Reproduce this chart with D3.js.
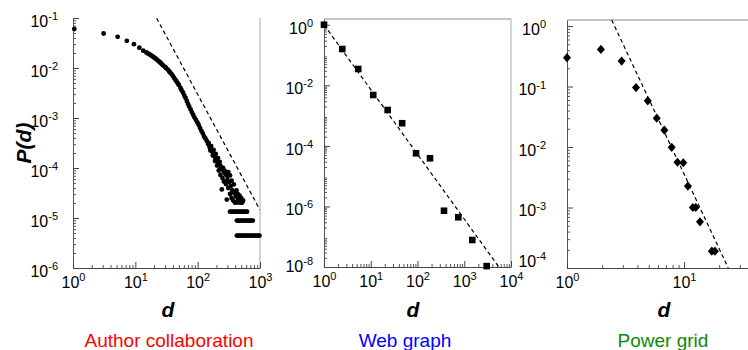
<!DOCTYPE html>
<html>
<head>
<meta charset="utf-8">
<script src="https://cdn.jsdelivr.net/npm/d3@7"></script>
<style>
  body { margin: 0; background: #fff; }
  svg { display: block; }
</style>
</head>
<body>
<div id="chart"></div>
<script>
// ---- data ----

// author collaboration: isolated low-d points + dense band
const authD = [1.05, 3.1, 5.2, 7.3, 9.5, 11.6, 13.4,
  15, 16, 17, 18, 19, 20, 21, 22, 23, 24, 25, 26, 27, 28, 30, 31, 33, 35, 36, 38, 40, 42, 44, 46, 48, 50,
  53, 55, 58, 61, 64, 67, 70, 73, 77, 81, 85, 89, 94, 99, 104, 109, 115, 121, 127, 133, 140, 147, 155,
  162, 170, 178, 185, 193, 200, 210, 220, 230, 240, 250, 260, 270, 280, 290, 300];
const authP = [0.060, 0.049, 0.042, 0.035, 0.030, 0.0255, 0.0222,
  2.04e-2, 1.95e-2, 1.86e-2, 1.78e-2, 1.70e-2, 1.62e-2, 1.55e-2, 1.48e-2, 1.41e-2, 1.35e-2, 1.29e-2, 1.23e-2,
  1.17e-2, 1.12e-2, 1.05e-2, 1.00e-2, 9.33e-3, 8.51e-3, 8.13e-3, 7.59e-3, 6.92e-3, 6.31e-3, 5.75e-3, 5.37e-3,
  4.90e-3, 4.57e-3, 3.98e-3, 3.63e-3, 3.24e-3, 2.82e-3, 2.51e-3, 2.19e-3, 1.91e-3, 1.70e-3, 1.48e-3, 1.29e-3,
  1.15e-3, 1.02e-3, 9.12e-4, 8.13e-4, 7.24e-4, 6.31e-4, 5.50e-4, 4.90e-4, 4.27e-4, 3.89e-4, 3.47e-4, 3.02e-4,
  2.63e-4, 2.40e-4, 2.14e-4, 1.91e-4, 1.74e-4, 1.58e-4, 1.45e-4, 1.32e-4, 1.20e-4, 1.10e-4, 1.00e-4, 9.33e-5,
  8.71e-5, 8.13e-5, 7.59e-5, 7.24e-5, 6.92e-5];
// scattered tail
const authTailD = [150, 160, 165, 175, 180, 190, 195, 205, 212, 218, 226, 232, 236, 244, 250, 256, 264, 272,
  284, 293, 300, 310, 320, 330, 340, 350, 360, 372, 385, 395, 410, 420, 440, 460, 480, 500, 520, 535,
  310, 330, 350, 380, 420, 440, 470, 500];
const authTailP = [3.16e-4, 2.24e-4, 2.75e-4, 1.78e-4, 2.29e-4, 1.38e-4, 1.91e-4, 1.12e-4, 1.58e-4, 8.91e-5,
  1.32e-4, 7.24e-5, 1.07e-4, 3.72e-5, 6.31e-5, 1.00e-4, 5.37e-5, 8.71e-5, 4.79e-5, 2.34e-5, 5.75e-5, 3.98e-5,
  5.25e-5, 3.02e-5, 4.37e-5, 2.51e-5, 3.55e-5, 2.24e-5, 3.16e-5, 2.04e-5, 2.75e-5, 2.04e-5, 2.51e-5, 2.04e-5,
  2.24e-5, 2.04e-5, 2.04e-5, 2.24e-5,
  8.3e-5, 7.1e-5, 5.6e-5, 4.7e-5, 3.55e-5, 3.0e-5, 2.8e-5, 2.5e-5];
// the three discrete rows (3, 2 and 1 counts)
const authRowP = [1.34e-5, 8.9e-6, 4.45e-6];
const authRowD = [
  [330, 350, 370, 390, 410, 430, 455, 480, 505, 530, 560, 590, 620],
  [425, 450, 475, 500, 530, 560, 590, 625, 660, 695, 730, 765],
  [425, 450, 475, 500, 530, 560, 590, 625, 660, 700, 740, 780, 830, 880, 930, 980]
];
const authFitD = [22, 1000];
const authFitP = [0.0986, 1.45e-5];

// web graph
const webD = [1, 2.46, 5.4, 11.3, 23, 47, 93, 185, 369, 746, 1486, 3020];
const webP = [1.0, 0.158, 0.0346, 4.8e-3, 1.53e-3, 5.6e-4, 5.7e-5, 3.9e-5, 7.2e-7, 4.4e-7, 7.8e-8, 1.07e-8];
const webFitD = [1, 5500];
const webFitP = [1.0, 1.0e-8];

// power grid
const powD = [1, 1.95, 2.93, 3.89, 4.9, 5.85, 6.8, 7.85, 8.8, 9.86, 10.8, 11.9, 12.6, 13.7, 17.3, 18.4];
const powP = [0.30, 0.41, 0.264, 0.096, 0.058, 0.030, 0.019, 0.0099, 0.0056, 0.0055, 0.00226, 0.0010, 0.0010,
  5.8e-4, 1.9e-4, 1.9e-4];
const powFitD = [2.41, 23.9];
const powFitP = [1.26, 1.0e-4];

const titles = ["Author collaboration", "Web graph", "Power grid"];
const titleColors = ["#ff0000", "#0000ff", "#0a8a0a"];
const xTickVals = [[1, 10, 100, 1000], [1, 10, 100, 1000, 10000], [1, 10]];
const yTickVals = [[1e-1, 1e-2, 1e-3, 1e-4, 1e-5, 1e-6], [1, 1e-2, 1e-4, 1e-6, 1e-8], [1, 1e-1, 1e-2, 1e-3, 1e-4]];

// ---- layout ----
const width = 748, height = 350;
const font = '"Liberation Sans", Arial, Helvetica, sans-serif';

const authPts = authD.map((d, i) => [d, authP[i]])
  .concat(authTailD.map((d, i) => [d, authTailP[i]]))
  .concat(...authRowD.map((row, r) => row.map(d => [d, authRowP[r]])));

const panels = [
  { x: [73, 260], y: [18, 268], xDom: [1, 1000], yDom: [1e-1, 1e-6], pad: 15, topLine: false, lift: 0,
    dX: 168, titleX: 169, pts: authPts, shape: "circle", fitD: authFitD, fitP: authFitP },
  { x: [324, 511], y: [19, 267], xDom: [1, 10000], yDom: [Math.pow(10, 0.19), 1e-8], pad: 11, topLine: true, lift: 4,
    dX: 413, titleX: 405, pts: webD.map((d, i) => [d, webP[i]]), shape: "square", fitD: webFitD, fitP: webFitP },
  { x: [567, 754.4], y: [20, 268], xDom: [1, 40], yDom: [Math.pow(10, 0.1), 1e-4], pad: 21, topLine: true, lift: 10,
    dX: 664, titleX: 663, pts: powD.map((d, i) => [d, powP[i]]), shape: "diamond", fitD: powFitD, fitP: powFitP }
];

const svg = d3.select("#chart").append("svg")
  .attr("width", width)
  .attr("height", height)
  .attr("viewBox", [0, 0, width, height]);

const minorTicks = (dom) => {
  const lo = Math.min(...dom), hi = Math.max(...dom);
  const out = [];
  for (let e = Math.floor(Math.log10(lo)); e < Math.ceil(Math.log10(hi)); e++) {
    for (let m = 2; m <= 9; m++) {
      const v = m * Math.pow(10, e);
      if (v > lo && v < hi) out.push(v);
    }
  }
  return out;
};

// "10" with a superscript exponent
const expLabel = function (d) {
  const t = d3.select(this);
  const e = Math.round(Math.log10(d));
  t.text(null);
  t.append("tspan").text("10");
  t.append("tspan").attr("font-size", 11).attr("dy", "-0.62em").text(String(e));
};

panels.forEach((p, i) => {
  const xScale = d3.scaleLog(p.xDom, p.x);
  const yScale = d3.scaleLog(p.yDom, p.y);
  const g = svg.append("g");

  g.append("clipPath").attr("id", `clip${i}`)
    .append("rect")
    .attr("x", p.x[0]).attr("y", p.y[0])
    .attr("width", p.x[1] - p.x[0]).attr("height", p.y[1] - p.y[0]);

  // frame: top / right lighter
  if (p.topLine) {
    g.append("line").attr("x1", p.x[0]).attr("x2", p.x[1]).attr("y1", p.y[0]).attr("y2", p.y[0])
      .attr("stroke", "#8a8a8a").attr("stroke-width", 1);
  }
  g.append("line").attr("x1", p.x[1]).attr("x2", p.x[1]).attr("y1", p.y[0]).attr("y2", p.y[1])
    .attr("stroke", "#aaa").attr("stroke-width", 1);

  // minor ticks
  g.append("g")
    .attr("transform", `translate(${p.x[0]},0)`)
    .call(d3.axisLeft(yScale).tickValues(minorTicks(p.yDom)).tickSize(-3).tickFormat(""))
    .call(a => a.select(".domain").remove())
    .call(a => a.selectAll(".tick line").attr("stroke", "#555"));
  g.append("g")
    .attr("transform", `translate(0,${p.y[1]})`)
    .call(d3.axisBottom(xScale).tickValues(minorTicks(p.xDom)).tickSize(-3).tickFormat(""))
    .call(a => a.select(".domain").remove())
    .call(a => a.selectAll(".tick line").attr("stroke", "#555"));

  // left axis
  const lowest = d3.min(yTickVals[i]);
  g.append("g")
    .attr("transform", `translate(${p.x[0]},0)`)
    .call(d3.axisLeft(yScale).tickValues(yTickVals[i]).tickSizeInner(-6).tickSizeOuter(0).tickPadding(p.pad))
    .call(a => a.select(".domain").attr("stroke", "#555"))
    .call(a => a.selectAll(".tick line").attr("stroke", "#444"))
    .call(a => a.selectAll(".tick text")
      .attr("font-family", font).attr("font-size", 16).attr("fill", "#000")
      .attr("y", d => d === lowest ? -p.lift : 0)
      .attr("dy", "0.52em")
      .each(expLabel));

  // bottom axis
  g.append("g")
    .attr("transform", `translate(0,${p.y[1]})`)
    .call(d3.axisBottom(xScale).tickValues(xTickVals[i]).tickSizeInner(-6).tickSizeOuter(0))
    .call(a => a.select(".domain").attr("stroke", "#444"))
    .call(a => a.selectAll(".tick text")
      .attr("font-family", font).attr("font-size", 16).attr("fill", "#000")
      .attr("y", 20).attr("dy", 0)
      .each(expLabel))
    .call(a => a.selectAll(".tick line").attr("stroke", "#444"));

  // dashed power-law fit
  g.append("path")
    .attr("clip-path", `url(#clip${i})`)
    .attr("fill", "none")
    .attr("stroke", "#000")
    .attr("stroke-width", 1.2)
    .attr("stroke-dasharray", "4,3")
    .attr("d", d3.line().x(d => xScale(d[0])).y(d => yScale(d[1]))(p.fitD.map((d, k) => [d, p.fitP[k]])));

  // markers
  const marks = g.append("g").attr("fill", "#000");
  if (p.shape === "circle") {
    marks.selectAll("circle").data(p.pts).join("circle")
      .attr("cx", d => xScale(d[0])).attr("cy", d => yScale(d[1])).attr("r", 2.4);
  } else if (p.shape === "square") {
    const s = 6.6;
    marks.selectAll("rect").data(p.pts).join("rect")
      .attr("x", d => xScale(d[0]) - s / 2).attr("y", d => yScale(d[1]) - s / 2)
      .attr("width", s).attr("height", s);
  } else {
    marks.selectAll("path").data(p.pts).join("path")
      .attr("transform", d => `translate(${xScale(d[0])},${yScale(d[1])})`)
      .attr("d", "M0,-4.6L4,0L0,4.6L-4,0Z");
  }

  // axis title d
  g.append("text")
    .attr("x", p.dX).attr("y", 317)
    .attr("text-anchor", "middle")
    .attr("font-family", font).attr("font-size", 21)
    .attr("font-weight", "bold").attr("font-style", "italic")
    .text("d");

  // panel caption
  g.append("text")
    .attr("x", p.titleX).attr("y", 347)
    .attr("text-anchor", "middle")
    .attr("font-family", font).attr("font-size", 19)
    .attr("fill", titleColors[i])
    .text(titles[i]);
});

// y axis title
svg.append("text")
  .attr("transform", "translate(31,143) rotate(-90)")
  .attr("text-anchor", "middle")
  .attr("font-family", font).attr("font-size", 21)
  .attr("font-weight", "bold").attr("font-style", "italic")
  .text("P(d)");
</script>
</body>
</html>
